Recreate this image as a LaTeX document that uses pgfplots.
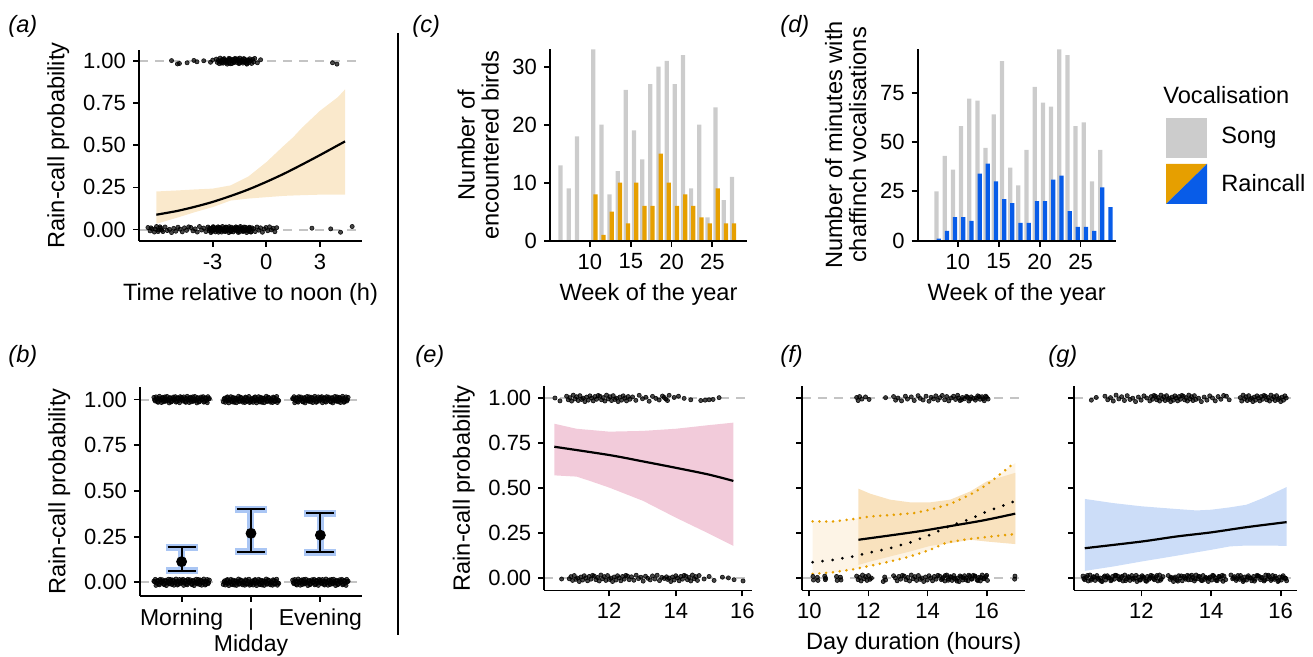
\documentclass[border=0pt]{standalone}
\usepackage{fontspec}
\setmainfont{Liberation Sans}
\usepackage{pgfplots}
\pgfplotsset{compat=1.18}
\usepackage{pgfplotstable}

\definecolor{songgray}{RGB}{204,204,204}
\definecolor{rcorange}{RGB}{230,159,0}
\definecolor{rcblue}{RGB}{8,92,232}
\definecolor{ribA}{RGB}{250,233,204}
\definecolor{ribE}{RGB}{242,203,218}
\definecolor{ribFlight}{RGB}{253,244,230}
\definecolor{ribFdark}{RGB}{249,226,190}
\definecolor{ribG}{RGB}{204,221,248}
\definecolor{errblue}{RGB}{170,198,244}
\definecolor{hgray}{RGB}{196,196,196}

\pgfplotsset{
  base/.style={scale only axis, anchor=south west, axis lines=left,
    axis line style={line width=0.9pt, -},
    tick align=outside, major tick length=3pt,
    tick style={line width=0.9pt, black},
    tick label style={font=\fontsize{11}{12}\selectfont},
    label style={font=\fontsize{11.8}{12}\selectfont},
    axis on top},
  prob/.style={ymin=-0.068, ymax=1.066, ytick={0,0.25,0.5,0.75,1},
    yticklabels={0.00,0.25,0.50,0.75,1.00}},
  pts/.style={only marks, mark=*, mark size=1.05pt,
    mark options={draw=black, fill=black, fill opacity=0.72, draw opacity=0.9, line width=0.3pt}},
  hl/.style={hgray, line width=1pt, dash pattern=on 4.5pt off 3.5pt},
}

\pgfplotstableread[row sep=\\]{dx dy\\
-0.40 0.012\\ -0.38 -0.008\\ -0.36 0.004\\ -0.34 -0.015\\ -0.32 0.018\\ -0.30 -0.003\\ -0.28 0.009\\ -0.26 -0.012\\ -0.24 0.015\\ -0.22 -0.006\\
-0.20 0.001\\ -0.18 -0.018\\ -0.16 0.007\\ -0.14 -0.010\\ -0.12 0.014\\ -0.10 0.002\\ -0.08 -0.014\\ -0.06 0.010\\ -0.04 -0.005\\ -0.02 0.016\\
0.00 0.012\\ 0.02 -0.008\\ 0.04 0.004\\ 0.06 -0.015\\ 0.08 0.018\\ 0.10 -0.003\\ 0.12 0.009\\ 0.14 -0.012\\ 0.16 0.015\\ 0.18 -0.006\\
0.20 0.001\\ 0.22 -0.018\\ 0.24 0.007\\ 0.26 -0.010\\ 0.28 0.014\\ 0.30 0.002\\ 0.32 -0.014\\ 0.34 0.010\\ 0.36 -0.005\\ 0.38 0.016\\ 0.40 0.006\\
-0.39 -0.002\\ -0.37 0.015\\ -0.35 -0.011\\ -0.33 0.006\\ -0.31 0.000\\ -0.29 -0.016\\ -0.27 0.013\\ -0.25 0.003\\ -0.23 -0.009\\ -0.21 0.017\\
-0.19 -0.004\\ -0.17 0.011\\ -0.15 -0.013\\ -0.13 0.005\\ -0.11 -0.001\\ -0.09 0.016\\ -0.07 -0.010\\ -0.05 0.008\\ -0.03 -0.017\\ -0.01 0.003\\
0.01 -0.002\\ 0.03 0.015\\ 0.05 -0.011\\ 0.07 0.006\\ 0.09 0.000\\ 0.11 -0.016\\ 0.13 0.013\\ 0.15 0.003\\ 0.17 -0.009\\ 0.19 0.017\\
0.21 -0.004\\ 0.23 0.011\\ 0.25 -0.013\\ 0.27 0.005\\ 0.29 -0.001\\ 0.31 0.016\\ 0.33 -0.010\\ 0.35 0.008\\ 0.37 -0.017\\ 0.39 0.003\\
}\bjit

\pgfplotstableread{
w s
6 13
7 9
8 18
10 33
11 20
12 8
13 12
14 26
15 19
16 14
17 27
18 30
19 31
20 27
21 32
22 9
23 20
24 4
25 23
26 7
27 11
}\cgray
\pgfplotstableread{
w r
10 8
11 1
12 5
13 10
14 3
15 10
16 6
17 6
18 15
19 10
20 6
21 8
22 6
23 4
24 3
25 9
26 3
27 3
}\corange
\pgfplotstableread{
w s
7 25
8 43
9 36
10 58
11 72
12 71
13 47
14 64
15 91
16 37
17 28
18 46
19 78
20 70
21 68
22 97
23 94
24 58
25 60
26 30
27 46
}\dgray
\pgfplotstableread{
w r
7 1
8 5
9 12
10 12
11 10
12 34
13 39
14 30
15 21
16 19
17 9
18 9
19 20
20 20
21 31
22 33
23 15
24 7
25 7
26 5
27 27
28 17
}\dblue

\begin{document}
\begin{tikzpicture}
\useasboundingbox (0,0) rectangle (656.5pt,328.5pt);

% ---------------- (a)
\begin{axis}[base, prob, at={(69.5pt,208pt)}, width=111.5pt, height=95.5pt,
  xmin=-7.12, xmax=5.35, xtick={-3,0,3}, xticklabels={-3,0,3},
  xlabel={Time relative to noon (h)}, ylabel={Rain-call probability}]
\addplot[hl] coordinates {(-7.12,0) (5.35,0)};
\addplot[hl] coordinates {(-7.12,1) (5.35,1)};
\addplot[fill=ribA, draw=none] coordinates {(-6.15,0.226) (-5,0.232) (-4,0.238) (-3,0.243) (-2,0.262) (-1,0.315) (0,0.40) (1,0.50) (1.5,0.548) (2,0.605) (3,0.705) (4,0.786) (4.4,0.832)
 (4.4,0.207) (3,0.207) (2,0.204) (1,0.200) (0,0.192) (-1,0.184) (-2,0.172) (-3,0.133) (-4,0.103) (-5,0.070) (-6.15,0.034)} -- cycle;
\addplot[pts] coordinates {
(-5.30,1.003) (-4.97,0.983) (-4.86,0.986) (-4.43,0.99) (-4.05,1.004) (-3.88,0.996) (-3.50,1.002) (-3.12,0.993) (-3.00,1.006)
(-2.80,1.012) (-2.74,0.992) (-2.69,1.004) (-2.63,0.985) (-2.58,1.018) (-2.52,0.997) (-2.47,1.009) (-2.41,0.988) (-2.36,1.015) (-2.30,0.994)
(-2.25,1.001) (-2.19,0.982) (-2.14,1.007) (-2.08,0.990) (-2.03,1.014) (-1.97,1.002) (-1.92,0.986) (-1.86,1.010) (-1.81,0.995) (-1.75,1.016)
(-1.70,1.012) (-1.64,0.992) (-1.59,1.004) (-1.53,0.985) (-1.48,1.018) (-1.42,0.997) (-1.37,1.009) (-1.31,0.988) (-1.26,1.015) (-1.20,0.994)
(-1.15,1.001) (-1.09,0.982) (-1.04,1.007) (-0.98,0.990) (-0.93,1.014) (-0.87,1.002) (-0.82,0.986) (-0.76,1.010) (-0.71,0.995) (-0.65,1.016)
(-2.60,1.000) (-2.50,0.988) (-2.40,1.010) (-2.30,1.005) (-2.20,0.992) (-2.10,1.016) (-2.00,0.984) (-1.90,1.006) (-1.80,0.991) (-1.70,1.001)
(-1.60,1.013) (-1.50,0.989) (-1.40,1.003) (-1.30,0.996) (-1.20,1.011) (-1.10,0.987) (-1.00,1.004)
(-0.50,0.990) (-0.32,1.008) (3.70,0.990) (3.95,0.982)
(-6.62,0.012) (-6.50,-0.008) (-6.38,0.004) (-6.26,-0.015) (-6.14,0.018) (-6.02,-0.003) (-5.90,0.009) (-5.78,-0.012) (-5.66,0.015) (-5.54,-0.006)
(-5.42,0.001) (-5.30,-0.018) (-5.18,0.007) (-5.06,-0.010) (-4.94,0.014) (-4.82,0.002) (-4.70,-0.014) (-4.58,0.010) (-4.46,-0.005) (-4.34,0.016)
(-4.22,0.012) (-4.10,-0.008) (-3.98,0.004) (-3.86,-0.015) (-3.74,0.018) (-3.62,-0.003) (-3.50,0.009) (-3.38,-0.012) (-3.26,0.015)
(-6.45,0.010) (-6.20,0.002) (-6.05,-0.012) (-5.95,0.016) (-5.85,-0.004)
(-3.20,-0.006) (-3.15,0.001) (-3.10,-0.018) (-3.05,0.007) (-3.00,-0.010) (-2.95,0.014) (-2.90,0.002) (-2.85,-0.014) (-2.80,0.010) (-2.75,-0.005)
(-2.70,0.016) (-2.65,0.012) (-2.60,-0.008) (-2.55,0.004) (-2.50,-0.015) (-2.45,0.018) (-2.40,-0.003) (-2.35,0.009) (-2.30,-0.012) (-2.25,0.015)
(-2.20,-0.006) (-2.15,0.001) (-2.10,-0.018) (-2.05,0.007) (-2.00,-0.010) (-1.95,0.014) (-1.90,0.002) (-1.85,-0.014) (-1.80,0.010) (-1.75,-0.005)
(-1.70,0.016) (-1.65,0.012) (-1.60,-0.008) (-1.55,0.004) (-1.50,-0.015) (-1.45,0.018) (-1.40,-0.003) (-1.35,0.009) (-1.30,-0.012) (-1.25,0.015)
(-1.20,-0.006) (-1.15,0.001) (-1.10,-0.018) (-1.05,0.007) (-1.00,-0.010) (-0.95,0.014) (-0.90,0.002) (-0.85,-0.014) (-0.80,0.010)
(-3.175,0.008) (-3.075,-0.011) (-2.975,0.017) (-2.875,-0.002) (-2.775,0.006) (-2.675,-0.016) (-2.575,0.011) (-2.475,0.000) (-2.375,-0.009) (-2.275,0.013)
(-2.175,-0.004) (-2.075,0.017) (-1.975,-0.013) (-1.875,0.005) (-1.775,-0.001) (-1.675,0.008) (-1.575,-0.017) (-1.475,0.011) (-1.375,0.003) (-1.275,-0.008)
(-1.175,0.014) (-1.075,-0.004) (-0.975,0.009) (-0.875,-0.015)
(-0.72,0.005) (-0.62,-0.012) (-0.52,0.015) (-0.42,-0.004) (-0.32,0.010) (-0.22,-0.016) (-0.12,0.003) (-0.02,0.012) (0.08,-0.007) (0.18,0.016)
(0.28,-0.002) (0.38,0.008) (0.48,-0.013) (0.58,0.011)
(2.55,0.008) (3.60,0.004) (4.15,-0.016) (4.80,0.018)};
\addplot[black, line width=1.1pt, smooth] coordinates {(-6.15,0.088) (-5,0.110) (-4,0.135) (-3,0.164) (-2,0.199) (-1,0.238) (0,0.283) (1,0.332) (2,0.386) (3,0.442) (4,0.500) (4.4,0.523)};
\end{axis}

% ---------------- (b)
\begin{axis}[base, prob, at={(70pt,30.5pt)}, width=111pt, height=104.5pt,
  xmin=0.4, xmax=3.6, ymin=-0.075, ymax=1.069, xtick={1,2,3},
  xticklabels={Morning,{|\\Midday},Evening},
  xticklabel style={align=center, font=\fontsize{11.5}{13}\selectfont},
  ylabel={Rain-call probability}]
\addplot[hl] coordinates {(0.4,0) (3.6,0)};
\addplot[hl] coordinates {(0.4,1) (3.6,1)};
\addplot[pts] table[x expr=\thisrow{dx}+1, y expr=\thisrow{dy}+1] {\bjit};
\addplot[pts] table[x expr=\thisrow{dx}+2, y expr=1-\thisrow{dy}] {\bjit};
\addplot[pts] table[x expr=3-\thisrow{dx}, y expr=\thisrow{dy}+1] {\bjit};
\addplot[pts] table[x expr=1-\thisrow{dx}, y expr=\thisrow{dy}] {\bjit};
\addplot[pts] table[x expr=\thisrow{dx}+2, y expr=-\thisrow{dy}] {\bjit};
\addplot[pts] table[x expr=\thisrow{dx}+3, y expr=\thisrow{dy}] {\bjit};
\addplot[draw=none, mark=none, error bars/.cd, y dir=both, y explicit,
  error bar style={draw=errblue, line width=3.5pt},
  error mark options={draw=errblue, rotate=90, mark size=8pt, line width=3.5pt}]
  coordinates {(1,0.113) += (0,0.078) -= (0,0.050) (2,0.268) += (0,0.131) -= (0,0.101) (3,0.258) += (0,0.119) -= (0,0.094)};
\addplot[draw=none, mark=none, error bars/.cd, y dir=both, y explicit,
  error bar style={draw=black, line width=1pt},
  error mark options={draw=black, rotate=90, mark size=7pt, line width=1pt}]
  coordinates {(1,0.113) += (0,0.078) -= (0,0.050) (2,0.268) += (0,0.131) -= (0,0.101) (3,0.258) += (0,0.119) -= (0,0.094)};
\addplot[only marks, mark=*, mark size=2.5pt, black] coordinates {(1,0.113) (2,0.268) (3,0.258)};
\end{axis}

% ---------------- (c)
\begin{axis}[base, at={(275pt,208.15pt)}, width=98.5pt, height=95.7pt,
  xmin=5.1, xmax=29.25, ymin=0, ymax=33,
  xtick={10,15,20,25}, xticklabels={10,15,20,25},
  ytick={0,10,20,30}, yticklabels={0,10,20,30},
  xlabel={Week of the year}, ylabel={Number of\\encountered birds},
  ylabel style={align=center}]
\addplot[ybar, bar width=0.52, bar shift=0pt, fill=songgray, draw=none] table[x expr=\thisrow{w}+0.4, y=s] {\cgray};
\addplot[ybar, bar width=0.52, bar shift=0pt, fill=rcorange, draw=none] table[x expr=\thisrow{w}+0.67, y=r] {\corange};
\end{axis}

% ---------------- (d)
\begin{axis}[base, at={(458.85pt,208.15pt)}, width=99pt, height=95.7pt,
  xmin=5.1, xmax=29.3, ymin=0, ymax=97,
  xtick={10,15,20,25}, xticklabels={10,15,20,25},
  ytick={0,25,50,75}, yticklabels={0,25,50,75},
  xlabel={Week of the year}, ylabel={Number of minutes with\\chaffinch vocalisations},
  ylabel style={align=center}]
\addplot[ybar, bar width=0.52, bar shift=0pt, fill=songgray, draw=none] table[x expr=\thisrow{w}+0.4, y=s] {\dgray};
\addplot[ybar, bar width=0.52, bar shift=0pt, fill=rcblue, draw=none] table[x expr=\thisrow{w}+0.67, y=r] {\dblue};
\end{axis}

% ---------------- (e)
\begin{axis}[base, prob, at={(272.15pt,33.25pt)}, width=103.7pt, height=102pt,
  xmin=10.05, xmax=16.28, xtick={12,14,16}, xticklabels={12,14,16},
  ylabel={Rain-call probability}]
\addplot[hl] coordinates {(10.05,0) (16.28,0)};
\addplot[hl] coordinates {(10.05,1) (16.28,1)};
\addplot[fill=ribE, draw=none] coordinates {(10.35,0.859) (11.02,0.831) (12,0.815) (13,0.819) (14,0.831) (14.93,0.850) (15.73,0.865)
 (15.73,0.180) (14.93,0.254) (14,0.337) (13.02,0.430) (12,0.504) (11.42,0.541) (11.02,0.565) (10.35,0.572)} -- cycle;
\addplot[pts] coordinates {
(10.37,1.002) (10.52,0.986)
(10.72,1.012) (10.77,0.992) (10.82,1.004) (10.87,0.985) (10.92,1.018) (10.97,0.997) (11.02,1.009) (11.07,0.988) (11.12,1.015) (11.17,0.994)
(11.22,1.001) (11.27,0.982) (11.32,1.007) (11.37,0.990) (11.42,1.014) (11.47,1.002) (11.52,0.986) (11.57,1.010) (11.62,0.995) (11.67,1.016)
(11.72,1.012) (11.77,0.992) (11.82,1.004) (11.87,0.985) (11.92,1.018) (11.97,0.997) (12.02,1.009) (12.07,0.988) (12.12,1.015) (12.17,0.994)
(12.22,1.001) (12.27,0.982) (12.32,1.007) (12.37,0.990) (12.42,1.014) (12.47,1.002) (12.52,0.986) (12.57,1.010) (12.62,0.995)
(12.70,1.008) (12.80,0.989) (12.90,1.017) (13.00,0.998) (13.10,1.006) (13.20,0.984) (13.30,1.011) (13.40,1.000) (13.50,0.991) (13.60,1.013)
(13.70,0.996) (13.80,1.017) (13.65,1.005) (13.75,0.988)
(13.95,1.005) (14.08,1.012) (14.25,1.000) (14.45,0.992) (14.75,0.988) (14.88,0.990) (15.00,0.992) (15.12,0.994) (15.30,1.004)
(10.57,-0.004)
(10.80,-0.003) (10.85,0.009) (10.90,-0.012) (10.95,0.015) (11.00,-0.006) (11.05,0.001) (11.10,-0.018) (11.15,0.007) (11.20,-0.010) (11.25,0.014)
(11.30,0.002) (11.35,-0.014) (11.40,0.010) (11.45,-0.005) (11.50,0.016) (11.55,0.012) (11.60,-0.008) (11.65,0.004) (11.70,-0.015) (11.75,0.018)
(11.80,-0.003) (11.85,0.009) (11.90,-0.012) (11.95,0.015) (12.00,-0.006) (12.05,0.001) (12.10,-0.018) (12.15,0.007) (12.20,-0.010) (12.25,0.014)
(12.30,0.002) (12.35,-0.014) (12.40,0.010) (12.45,-0.005) (12.50,0.016) (12.55,0.012) (12.60,-0.008)
(12.67,0.008) (12.74,-0.011) (12.81,0.017) (12.88,-0.002) (12.95,0.006) (13.02,-0.016) (13.09,0.011) (13.16,0.000) (13.23,-0.009) (13.30,0.013)
(13.37,-0.004) (13.44,0.017) (13.51,-0.013) (13.58,0.005) (13.65,-0.001) (13.72,0.008)
(13.75,-0.006) (13.80,0.001) (13.85,-0.018) (13.90,0.007) (13.95,-0.010) (14.00,0.014) (14.05,0.002) (14.10,-0.014) (14.15,0.010) (14.20,-0.005)
(14.25,0.016) (14.30,0.012) (14.35,-0.008) (14.40,0.004) (14.45,-0.015) (14.50,0.018) (14.55,-0.003) (14.60,0.009) (14.65,-0.012) (14.70,0.015)
(14.85,-0.004) (15.00,0.010) (15.15,-0.012) (15.40,0.006) (15.58,0.002) (15.75,-0.008) (16.02,-0.015)};
\addplot[black, line width=1.1pt, smooth] coordinates {(10.35,0.731) (12,0.685) (13,0.650) (14,0.614) (15,0.576) (15.73,0.541)};
\end{axis}

% ---------------- (f)
\begin{axis}[base, prob, at={(401.15pt,33.25pt)}, width=111.35pt, height=102pt,
  xmin=9.76, xmax=17.3, xtick={10,12,14,16}, xticklabels={10,12,14,16},
  yticklabels={}, xlabel={Day duration (hours)}]
\addplot[hl] coordinates {(9.76,0) (17.3,0)};
\addplot[hl] coordinates {(9.76,1) (17.3,1)};
\addplot[fill=ribFlight, draw=none] coordinates {(10.11,0.316) (10.81,0.316) (11.49,0.329) (12.06,0.344) (12.73,0.351) (13.53,0.362) (14.09,0.381) (14.77,0.413) (15.45,0.465) (16.01,0.520) (16.80,0.623) (16.97,0.640)
 (16.97,0.245) (16.80,0.243) (15.67,0.223) (15.22,0.214) (14.66,0.199) (14.09,0.158) (13.41,0.121) (12.73,0.093) (12.06,0.069) (11.49,0.050) (10.81,0.033) (10.11,0.024)} -- cycle;
\addplot[fill=ribFdark, draw=none] coordinates {(11.66,0.498) (12.06,0.470) (12.73,0.437) (13.41,0.422) (14.09,0.422) (14.77,0.437) (15.45,0.483) (16.01,0.539) (16.97,0.586)
 (16.97,0.190) (16.01,0.204) (15.45,0.214) (14.77,0.195) (14.09,0.180) (13.41,0.149) (12.73,0.121) (12.06,0.093) (11.66,0.074)} -- cycle;
\addplot[pts] coordinates {
(11.60,1.005) (11.65,0.988) (11.70,1.010) (11.78,0.996) (11.90,1.008) (12.02,0.994) (12.58,1.004) (12.85,1.010) (12.92,0.990) (13.00,1.002)
(13.12,0.986) (13.25,1.012) (13.32,0.996) (13.45,1.008) (13.55,0.988) (13.68,1.015) (13.75,1.000) (13.85,0.991) (13.95,1.012) (14.05,0.984)
(14.12,1.006) (14.20,0.997) (14.28,1.014) (14.35,0.990) (14.42,1.004) (14.50,1.016) (14.58,0.992) (14.65,1.010) (14.72,0.986) (14.80,1.002)
(14.88,1.012) (14.95,0.994) (15.02,1.017) (15.10,0.988) (15.18,1.005) (15.25,0.998) (15.32,1.011) (15.40,0.985) (15.48,1.008) (15.55,1.000)
(15.62,0.990) (15.70,1.014) (15.78,0.995) (15.85,1.009) (15.92,0.987) (16.00,1.006) (16.05,0.996)
(15.05,1.002) (15.15,0.992) (15.35,1.006) (15.45,0.996) (15.65,1.002) (15.75,1.010) (15.88,0.998) (15.97,1.012)
(10.12,0.010) (10.14,-0.010) (10.27,0.005) (10.29,-0.012) (10.52,0.012) (10.54,-0.008) (10.55,0.000) (10.92,0.010) (10.94,-0.012) (11.05,0.006) (11.07,-0.010)
(11.60,0.012) (11.65,-0.008) (11.70,0.004) (11.75,-0.015) (11.80,0.018) (11.85,-0.003) (11.90,0.009) (11.95,-0.012) (12.00,0.015) (12.05,-0.006) (12.10,0.001)
(12.50,-0.018) (12.55,0.007) (12.58,-0.010)
(12.85,0.014) (12.91,0.002) (12.97,-0.014) (13.03,0.010) (13.09,-0.005) (13.15,0.016) (13.21,0.012) (13.27,-0.008) (13.33,0.004) (13.39,-0.015)
(13.45,0.018) (13.51,-0.003) (13.57,0.009) (13.63,-0.012) (13.69,0.015) (13.75,-0.006) (13.81,0.001) (13.87,-0.018) (13.93,0.007) (13.99,-0.010)
(14.05,0.014) (14.11,0.002) (14.17,-0.014) (14.23,0.010) (14.29,-0.005) (14.35,0.016) (14.41,0.012) (14.47,-0.008) (14.53,0.004) (14.59,-0.015)
(14.65,0.018) (14.71,-0.003) (14.77,0.009) (14.83,-0.012) (14.89,0.015) (14.95,-0.006) (15.01,0.001) (15.07,-0.018) (15.13,0.007) (15.19,-0.010)
(15.25,0.014) (15.31,0.002) (15.37,-0.014) (15.43,0.010) (15.49,-0.005) (15.55,0.016) (15.61,0.012) (15.67,-0.008) (15.73,0.004) (15.79,-0.015)
(15.85,0.018) (15.91,-0.003) (15.97,0.009) (16.03,-0.012)
(14.50,-0.002) (14.60,0.015) (14.70,-0.011) (14.80,0.006) (14.90,0.000) (15.00,-0.016) (15.10,0.013) (15.20,0.003) (15.30,-0.009) (15.40,0.017)
(15.50,-0.004) (15.60,0.011) (15.70,-0.013) (15.80,0.005) (15.90,-0.001) (16.00,0.016)
(16.95,-0.005) (16.96,0.012)};
\addplot[rcorange, line width=1.4pt, line cap=round, dash pattern=on 0pt off 3.4pt] coordinates {(10.11,0.316) (10.81,0.316) (11.49,0.329) (12.06,0.344) (12.73,0.351) (13.53,0.362) (14.09,0.381) (14.77,0.413) (15.45,0.465) (16.01,0.520) (16.80,0.623) (16.97,0.640)};
\addplot[rcorange, line width=1.4pt, line cap=round, dash pattern=on 0pt off 3.4pt] coordinates {(10.11,0.024) (10.81,0.033) (11.49,0.050) (12.06,0.069) (12.73,0.093) (13.41,0.121) (14.09,0.158) (14.66,0.199) (15.22,0.214) (15.67,0.223) (16.80,0.243) (16.97,0.245)};
\addplot[black, line width=1.5pt, line cap=round, dash pattern=on 0pt off 5pt] coordinates {(10.11,0.089) (10.81,0.102) (11.49,0.121) (12.06,0.143) (12.73,0.167) (13.41,0.199) (14.09,0.242) (14.77,0.292) (15.45,0.329) (16.01,0.372) (16.80,0.418) (16.97,0.431)};
\addplot[black, line width=1.1pt, smooth] coordinates {(11.66,0.214) (12.73,0.238) (13.8,0.263) (14.77,0.290) (15.9,0.322) (16.97,0.359)};
\end{axis}

% ---------------- (g)
\begin{axis}[base, prob, at={(537.15pt,33.25pt)}, width=111.2pt, height=102pt,
  xmin=10.07, xmax=16.46, xtick={12,14,16}, xticklabels={12,14,16},
  yticklabels={}]
\addplot[hl] coordinates {(10.07,0) (16.46,0)};
\addplot[hl] coordinates {(10.07,1) (16.46,1)};
\addplot[fill=ribG, draw=none] coordinates {(10.37,0.441) (11.18,0.418) (12,0.400) (13.0,0.385) (13.58,0.377) (14,0.381) (14.54,0.394) (15.02,0.409) (15.5,0.446) (16.17,0.507)
 (16.17,0.180) (15.5,0.182) (15.02,0.182) (14.54,0.177) (14,0.158) (13.0,0.125) (12,0.093) (11.18,0.065) (10.37,0.041)} -- cycle;
\addplot[pts] coordinates {
(10.56,0.990) (10.70,1.005)
(10.95,1.012) (11.03,0.992) (11.11,1.004) (11.19,0.985) (11.27,1.018) (11.35,0.997) (11.43,1.009) (11.51,0.988) (11.59,1.015) (11.67,0.994)
(11.75,1.001) (11.83,0.982) (11.91,1.007) (11.99,0.990) (12.07,1.014) (12.15,1.002)
(12.24,0.986) (12.28,1.010) (12.32,0.995) (12.36,1.016) (12.40,1.012) (12.44,0.992) (12.48,1.004) (12.52,0.985) (12.56,1.018) (12.60,0.997)
(12.64,1.009) (12.68,0.988) (12.72,1.015) (12.76,0.994) (12.80,1.001) (12.84,0.982) (12.88,1.007) (12.92,0.990) (12.96,1.014) (13.00,1.002)
(13.04,0.986) (13.08,1.010) (13.12,0.995) (13.16,1.016) (13.20,1.012) (13.24,0.992) (13.28,1.004) (13.32,0.985) (13.36,1.018) (13.40,0.997)
(13.44,1.009) (13.48,0.988) (13.52,1.015) (13.56,0.994)
(13.64,1.001) (13.72,0.982) (13.80,1.007) (13.88,0.990) (13.96,1.014) (14.04,1.002) (14.12,0.986) (14.20,1.010) (14.28,0.995) (14.36,1.016) (14.44,1.012) (14.52,0.992)
(14.84,1.004) (14.88,0.985) (14.92,1.018) (14.96,0.997) (15.00,1.009) (15.04,0.988) (15.08,1.015) (15.12,0.994) (15.16,1.001) (15.20,0.982)
(15.24,1.007) (15.28,0.990) (15.32,1.014) (15.36,1.002) (15.40,0.986) (15.44,1.010) (15.48,0.995) (15.52,1.016) (15.56,1.012) (15.60,0.992)
(15.64,1.004) (15.68,0.985) (15.72,1.018) (15.76,0.997) (15.80,1.009) (15.84,0.988) (15.88,1.015) (15.92,0.994) (15.96,1.001) (16.00,0.982)
(16.04,1.007) (16.08,0.990) (16.12,1.014) (16.16,1.002)
(10.32,0.012) (10.37,-0.008) (10.42,0.004) (10.47,-0.015) (10.52,0.018) (10.57,-0.003) (10.62,0.009) (10.67,-0.012) (10.72,0.015) (10.77,-0.006)
(10.82,0.001) (10.87,-0.018) (10.92,0.007) (10.97,-0.010) (11.02,0.014) (11.07,0.002) (11.12,-0.014) (11.17,0.010) (11.22,-0.005) (11.27,0.016)
(11.32,0.012) (11.37,-0.008) (11.42,0.004) (11.47,-0.015) (11.52,0.018) (11.57,-0.003) (11.62,0.009) (11.67,-0.012) (11.72,0.015) (11.77,-0.006)
(11.82,0.001) (11.87,-0.018) (11.92,0.007) (11.97,-0.010) (12.02,0.014) (12.07,0.002) (12.12,-0.014) (12.17,0.010) (12.22,-0.005) (12.27,0.016)
(12.32,0.012) (12.37,-0.008) (12.42,0.004) (12.47,-0.015) (12.52,0.018) (12.57,-0.003) (12.62,0.009) (12.77,0.015) (12.82,-0.006)
(12.87,0.001) (12.92,-0.018) (12.97,0.007) (13.02,-0.010) (13.07,0.014) (13.12,0.002) (13.17,-0.014) (13.22,0.010) (13.27,-0.005) (13.32,0.016)
(13.37,0.012) (13.42,-0.008) (13.47,0.004) (13.52,-0.015) (13.57,0.018) (13.62,-0.003) (13.67,0.009) (13.72,-0.012) (13.77,0.015) (13.82,-0.006)
(13.87,0.001) (13.92,-0.018) (13.97,0.007) (14.02,-0.010) (14.07,0.014) (14.12,0.002) (14.17,-0.014) (14.22,0.010) (14.27,-0.005) (14.32,0.016)
(14.37,0.012) (14.42,-0.008) (14.57,0.018) (14.62,-0.003) (14.67,0.009) (14.72,-0.012) (14.77,0.015) (14.82,-0.006)
(14.87,0.001) (14.92,-0.018) (14.97,0.007) (15.02,-0.010) (15.07,0.014) (15.12,0.002) (15.17,-0.014) (15.22,0.010) (15.27,-0.005) (15.32,0.016)
(15.37,0.012) (15.42,-0.008) (15.47,0.004) (15.52,-0.015) (15.57,0.018) (15.62,-0.003) (15.67,0.009) (15.72,-0.012) (15.77,0.015) (15.82,-0.006)
(15.87,0.001) (15.92,-0.018) (15.97,0.007) (16.02,-0.010) (16.07,0.014) (16.12,0.002) (16.17,-0.014)
(10.345,-0.002) (10.445,0.015) (10.545,-0.011) (10.645,0.006) (10.745,0.000) (10.845,-0.016) (10.945,0.013) (11.045,0.003) (11.145,-0.009) (11.245,0.017)
(11.345,-0.004) (11.445,0.011) (11.545,-0.013) (11.645,0.005) (11.745,-0.001) (11.845,0.016) (11.945,-0.010) (12.045,0.008) (12.145,-0.017) (12.245,0.003)
(12.345,-0.002) (12.445,0.015) (12.545,-0.011) (12.845,0.006) (12.945,0.000) (13.045,-0.016) (13.145,0.013) (13.245,0.003) (13.345,-0.009) (13.445,0.017)
(13.545,-0.004) (13.645,0.011) (13.745,-0.013) (13.845,0.005) (13.945,-0.001) (14.045,0.016) (14.145,-0.010) (14.245,0.008) (14.345,-0.017) (14.645,0.003)
(14.745,-0.002) (14.845,0.015) (14.945,-0.011) (15.045,0.006) (15.145,0.000) (15.245,-0.016) (15.345,0.013) (15.445,0.003) (15.545,-0.009) (15.645,0.017)
(15.745,-0.004) (15.845,0.011) (15.945,-0.013) (16.045,0.005) (16.145,-0.001)};
\addplot[black, line width=1.1pt, smooth] coordinates {(10.37,0.167) (12,0.204) (13.0,0.232) (14,0.255) (15.02,0.284) (16.17,0.312)};
\end{axis}

% ---------------- separator, tags, legend
\draw[line width=0.9pt] (199pt,312pt) -- (199pt,11pt);
\begin{scope}[every node/.style={anchor=west, inner sep=0pt, font=\itshape\fontsize{11.8}{12}\selectfont}]
\node at (4pt,315.5pt) {(a)};
\node at (4pt,150.5pt) {(b)};
\node at (206pt,315.5pt) {(c)};
\node at (390pt,315.5pt) {(d)};
\node at (207.5pt,150.5pt) {(e)};
\node at (390pt,150.5pt) {(f)};
\node at (524pt,150.5pt) {(g)};
\end{scope}
\begin{scope}[every node/.style={anchor=west, inner sep=0pt, font=\fontsize{11.8}{12}\selectfont}]
\node at (581.5pt,281pt) {Vocalisation};
\fill[songgray] (583pt,249.5pt) rectangle (603.5pt,269.5pt);
\fill[rcorange] (583pt,226.5pt) -- (583pt,246.5pt) -- (603.5pt,246.5pt) -- cycle;
\fill[rcblue] (583pt,226.5pt) -- (603.5pt,246.5pt) -- (603.5pt,226.5pt) -- cycle;
\node at (610.5pt,259.5pt) {Song};
\node at (610.5pt,237pt) {Raincall};
\end{scope}
\end{tikzpicture}
\end{document}
